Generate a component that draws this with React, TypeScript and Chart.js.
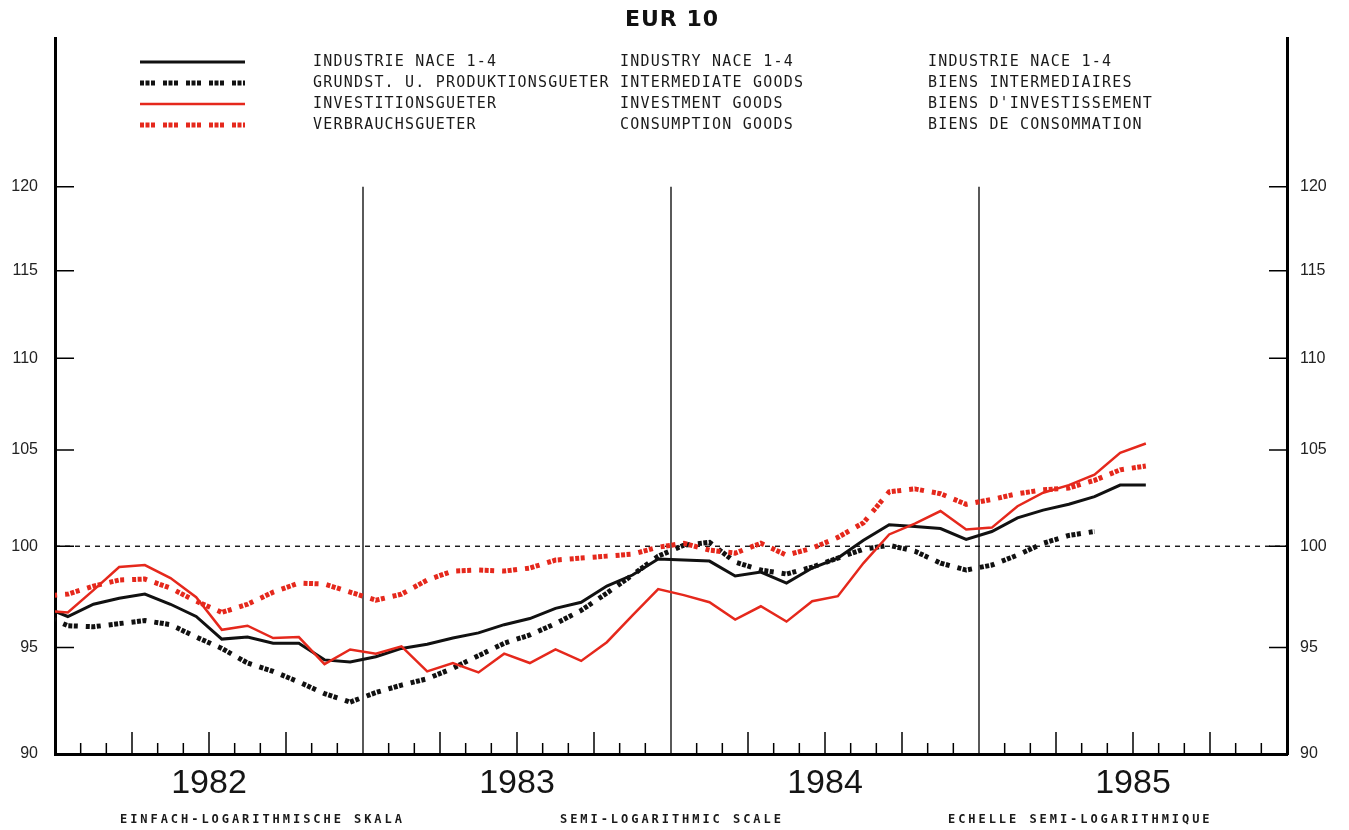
import React, { useEffect, useRef } from "react";
import { Chart, registerables } from "chart.js";

Chart.register(...registerables);

// Months: first entry is Dec 1981, then Jan 1982 ... Jul 1985 (x = index - 0.5 months from Jan 1982)
const INDUSTRY = [
  97.0, 96.5, 97.1, 97.4, 97.6, 97.1, 96.5, 95.4, 95.5, 95.2, 95.2, 94.4, 94.3,
  94.55, 94.95, 95.15, 95.45, 95.7, 96.1, 96.4, 96.9, 97.2, 98.0, 98.55, 99.35,
  99.3, 99.25, 98.5, 98.7, 98.15, 98.9, 99.4, 100.3, 101.1, 101.0, 100.9, 100.35,
  100.75, 101.45, 101.85, 102.15, 102.55, 103.15, 103.15,
];
const INTERMEDIATE = [
  96.6, 96.05, 96.0, 96.15, 96.3, 96.1, 95.5, 94.95, 94.25, 93.85, 93.35, 92.8, 92.4,
  92.85, 93.2, 93.5, 94.0, 94.6, 95.2, 95.6, 96.15, 96.8, 97.65, 98.55, 99.5,
  100.05, 100.2, 99.2, 98.8, 98.6, 98.95, 99.4, 99.85, 100.05, 99.75, 99.15, 98.8,
  99.05, 99.55, 100.15, 100.55, 100.75, null, null,
];
const INVESTMENT = [
  96.8, 96.7, 97.8, 98.95, 99.05, 98.4, 97.45, 95.85, 96.05, 95.45, 95.5, 94.2, 94.9,
  94.7, 95.05, 93.85, 94.25, 93.8, 94.7, 94.25, 94.9, 94.35, 95.25, 96.55, 97.85,
  97.55, 97.2, 96.35, 97.0, 96.25, 97.25, 97.5, 99.15, 100.6, 101.15, 101.8, 100.85,
  100.95, 102.05, 102.75, 103.15, 103.7, 104.85, 105.35,
];
const CONSUMPTION = [
  97.5, 97.6, 98.0, 98.3, 98.35, 97.9, 97.25, 96.7, 97.1, 97.7, 98.15, 98.1, 97.7,
  97.3, 97.6, 98.3, 98.75, 98.8, 98.75, 98.9, 99.3, 99.4, 99.5, 99.6, 99.95,
  100.15, 99.8, 99.65, 100.15, 99.55, 99.9, 100.45, 101.2, 102.8, 102.95, 102.7, 102.15,
  102.4, 102.7, 102.9, 103.0, 103.4, 103.95, 104.15,
];

const Y_TICKS = [90, 95, 100, 105, 110, 115, 120];
const YEAR_LABELS = ["1982", "1983", "1984", "1985"];
const YEAR_CENTERS = [6, 18, 30, 42];
const YEAR_BOUNDS = [12, 24, 36];
const REF_LINE = 100;

const LEGEND_DE = ["INDUSTRIE NACE 1-4", "GRUNDST. U. PRODUKTIONSGUETER", "INVESTITIONSGUETER", "VERBRAUCHSGUETER"];
const LEGEND_EN = ["INDUSTRY NACE 1-4", "INTERMEDIATE GOODS", "INVESTMENT GOODS", "CONSUMPTION GOODS"];
const LEGEND_FR = ["INDUSTRIE NACE 1-4", "BIENS INTERMEDIAIRES", "BIENS D'INVESTISSEMENT", "BIENS DE CONSOMMATION"];
const TITLE = "EUR 10";
const FOOT = ["EINFACH-LOGARITHMISCHE SKALA", "SEMI-LOGARITHMIC SCALE", "ECHELLE SEMI-LOGARITHMIQUE"];

const BLACK = "#111111";
const RED = "#e5281c";
const DOT_DASH = [4, 1.5, 4, 1.5, 4, 8];

const STYLES = [
  { color: BLACK, width: 3, dash: [] as number[] },
  { color: BLACK, width: 5, dash: DOT_DASH },
  { color: RED, width: 2.5, dash: [] as number[] },
  { color: RED, width: 5, dash: DOT_DASH },
];

const toPoints = (arr: (number | null)[]) =>
  arr.map((v, i) => ({ x: i - 0.5, y: v as number }));

const decoPlugin = {
  id: "deco",
  beforeDatasetsDraw(chart: any) {
    const { ctx, chartArea } = chart;
    const xs = chart.scales.x;
    const ys = chart.scales.y;
    const { left, right, bottom } = chartArea;
    ctx.save();
    ctx.strokeStyle = "#000";
    ctx.lineWidth = 1.3;
    ctx.setLineDash([5, 5]);
    const y100 = ys.getPixelForValue(REF_LINE);
    ctx.beginPath();
    ctx.moveTo(left, y100);
    ctx.lineTo(right, y100);
    ctx.stroke();
    ctx.setLineDash([]);
    ctx.lineWidth = 1.3;
    const yTop = ys.getPixelForValue(120);
    YEAR_BOUNDS.forEach((m) => {
      const x = xs.getPixelForValue(m);
      ctx.beginPath();
      ctx.moveTo(x, yTop);
      ctx.lineTo(x, bottom);
      ctx.stroke();
    });
    ctx.lineWidth = 1.5;
    for (let m = 1; m < 48; m++) {
      if (m % 12 === 0) continue;
      const x = xs.getPixelForValue(m);
      const h = m % 3 === 0 ? 22 : 11;
      ctx.beginPath();
      ctx.moveTo(x, bottom);
      ctx.lineTo(x, bottom - h);
      ctx.stroke();
    }
    Y_TICKS.forEach((v) => {
      const y = ys.getPixelForValue(v);
      ctx.beginPath();
      ctx.moveTo(left, y);
      ctx.lineTo(left + 19, y);
      ctx.moveTo(right - 18, y);
      ctx.lineTo(right, y);
      ctx.stroke();
    });
    ctx.restore();
  },
  afterDraw(chart: any) {
    const { ctx } = chart;
    ctx.save();
    ctx.fillStyle = "#111";
    ctx.textBaseline = "middle";
    ctx.textAlign = "center";
    ctx.font = "bold 22px 'DejaVu Sans'";
    (ctx as any).letterSpacing = "1px";
    ctx.fillText(TITLE, 672, 20);
    const rows = [62, 83, 104, 125];
    rows.forEach((y, i) => {
      const st = STYLES[i];
      ctx.strokeStyle = st.color;
      ctx.lineWidth = st.width;
      ctx.setLineDash(st.dash);
      ctx.beginPath();
      ctx.moveTo(140, y);
      ctx.lineTo(245, y);
      ctx.stroke();
    });
    ctx.setLineDash([]);
    ctx.textAlign = "left";
    ctx.font = "15px 'DejaVu Sans Mono'";
    (ctx as any).letterSpacing = "1.2px";
    ctx.fillStyle = "#1a1a1a";
    rows.forEach((y, i) => {
      ctx.fillText(LEGEND_DE[i], 313, y);
      ctx.fillText(LEGEND_EN[i], 620, y);
      ctx.fillText(LEGEND_FR[i], 928, y);
    });
    ctx.font = "bold 12px 'DejaVu Sans Mono'";
    (ctx as any).letterSpacing = "2.95px";
    const fx = [120, 560, 948];
    FOOT.forEach((t, i) => ctx.fillText(t, fx[i], 820));
    (ctx as any).letterSpacing = "0px";
    ctx.restore();
  },
};

export default function App() {
  const ref = useRef<HTMLCanvasElement | null>(null);
  useEffect(() => {
    if (!ref.current) return;
    const series = [INDUSTRY, INTERMEDIATE, INVESTMENT, CONSUMPTION];
    const chart = new Chart(ref.current, {
      type: "line",
      data: {
        datasets: series.map((s, i) => ({
          label: LEGEND_DE[i],
          data: toPoints(s),
          borderColor: STYLES[i].color,
          borderWidth: STYLES[i].width,
          borderDash: STYLES[i].dash,
          borderCapStyle: "butt",
          borderJoinStyle: "miter",
          pointRadius: 0,
          tension: 0,
          fill: false,
          spanGaps: false,
          yAxisID: "y",
          order: 4 - i,
        })),
      },
      options: {
        responsive: false,
        animation: false,
        devicePixelRatio: 1,
        layout: { padding: { top: 38, left: 0, right: 0, bottom: 0 } },
        plugins: {
          legend: { display: false },
          tooltip: { enabled: false },
          title: { display: false },
        },
        scales: {
          x: {
            type: "linear",
            position: "bottom",
            min: 0,
            max: 48,
            afterFit: (s: any) => {
              s.height = 76;
            },
            afterBuildTicks: (s: any) => {
              s.ticks = YEAR_CENTERS.map((v) => ({ value: v }));
            },
            grid: { display: false, drawTicks: false },
            border: { display: true, color: "#000", width: 3 },
            ticks: {
              autoSkip: false,
              maxRotation: 0,
              padding: 9,
              color: "#151515",
              font: { family: "'Liberation Sans', Arial, sans-serif", size: 34 },
              callback: (v: any) => YEAR_LABELS[YEAR_CENTERS.indexOf(Number(v))] ?? "",
            },
          },
          y: {
            type: "logarithmic",
            position: "left",
            min: 90,
            max: 129.4,
            afterFit: (s: any) => {
              s.width = 55;
            },
            afterBuildTicks: (s: any) => {
              s.ticks = Y_TICKS.map((v) => ({ value: v }));
            },
            grid: { display: false, drawTicks: false },
            border: { display: true, color: "#000", width: 3 },
            ticks: {
              autoSkip: false,
              padding: 17,
              color: "#222",
              font: { family: "'Liberation Sans', Arial, sans-serif", size: 16 },
              callback: (v: any) => String(v),
            },
          },
          y2: {
            type: "logarithmic",
            position: "right",
            min: 90,
            max: 129.4,
            afterFit: (s: any) => {
              s.width = 62;
            },
            afterBuildTicks: (s: any) => {
              s.ticks = Y_TICKS.map((v) => ({ value: v }));
            },
            grid: { display: false, drawTicks: false },
            border: { display: true, color: "#000", width: 3 },
            ticks: {
              autoSkip: false,
              padding: 13,
              color: "#222",
              font: { family: "'Liberation Sans', Arial, sans-serif", size: 16 },
              callback: (v: any) => String(v),
            },
          },
        },
      } as any,
      plugins: [decoPlugin],
    });
    return () => chart.destroy();
  }, []);
  return (
    <div style={{ position: "absolute", left: 0, top: 0, width: 1349, height: 830, background: "#fff" }}>
      <canvas ref={ref} width={1349} height={830} style={{ display: "block", width: 1349, height: 830 }} />
    </div>
  );
}
